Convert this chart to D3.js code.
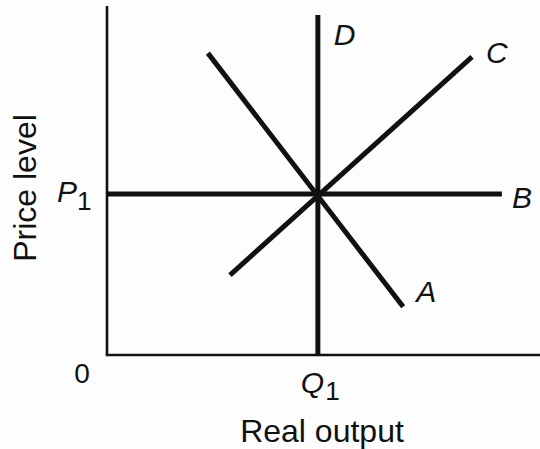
<!DOCTYPE html>
<html>
<head>
<meta charset="utf-8">
<script src="https://cdn.jsdelivr.net/npm/d3@7"></script>
<style>
  html, body { margin: 0; padding: 0; background: #fdfdfd; }
  svg { display: block; }
  text { font-family: "Liberation Sans", Arial, Helvetica, sans-serif; fill: #111; }
</style>
</head>
<body>
<svg id="chart" width="540" height="449"></svg>
<script>
// courbes (unités arbitraires, 0..10 sur chaque axe)
const curveNames = ["A", "B", "C", "D"];
const curveStart = [[2.33, 8.65], [0, 4.61], [2.84, 2.29], [4.87, 0]];
const curveEnd = [[6.84, 1.38], [9.12, 4.61], [8.43, 8.54], [4.87, 9.74]];

// repères sur les axes
const q1Value = 4.87;
const p1Value = 4.61;
const xTitle = "Real output";
const yTitle = "Price level";

const svg = d3.select("#chart");

const x = d3.scaleLinear().domain([0, 10]).range([107, 540]);
const y = d3.scaleLinear().domain([0, 10]).range([355, 6]);

// axes
svg.append("line")
    .attr("x1", x(0)).attr("y1", y(0))
    .attr("x2", x(0)).attr("y2", y(10))
    .attr("stroke", "#111").attr("stroke-width", 2.6);
svg.append("line")
    .attr("x1", x(0) - 1.3).attr("y1", y(0))
    .attr("x2", x(10)).attr("y2", y(0))
    .attr("stroke", "#111").attr("stroke-width", 2.6);

// courbes
const curves = curveNames.map((name, i) => ({ name, p0: curveStart[i], p1: curveEnd[i] }));

svg.selectAll(".curve")
    .data(curves)
    .enter().append("line")
    .attr("class", "curve")
    .attr("x1", d => x(d.p0[0])).attr("y1", d => y(d.p0[1]))
    .attr("x2", d => x(d.p1[0])).attr("y2", d => y(d.p1[1]))
    .attr("stroke", "#111").attr("stroke-width", 5);

// étiquettes des courbes, décalées depuis l'extrémité
const labelOffset = { A: [13, -5], B: [10, 14], C: [14, 6], D: [16, 30] };
svg.selectAll(".curve-label")
    .data(curves)
    .enter().append("text")
    .attr("class", "curve-label")
    .attr("x", d => x(d.p1[0]) + labelOffset[d.name][0])
    .attr("y", d => y(d.p1[1]) + labelOffset[d.name][1])
    .attr("font-size", 30)
    .attr("font-style", "italic")
    .text(d => d.name);

// origine
svg.append("text")
    .attr("x", 82).attr("y", 383)
    .attr("text-anchor", "middle")
    .attr("font-size", 28)
    .text("0");

// Q1
const q1 = svg.append("text")
    .attr("x", x(q1Value) - 17).attr("y", 393)
    .attr("font-size", 30);
q1.append("tspan").attr("font-style", "italic").text("Q");
q1.append("tspan").attr("dy", 7).attr("dx", 1).attr("font-size", 26).text("1");

// P1
const p1 = svg.append("text")
    .attr("x", 57).attr("y", y(p1Value) + 8)
    .attr("font-size", 30);
p1.append("tspan").attr("font-style", "italic").text("P");
p1.append("tspan").attr("dy", 8).attr("dx", 0).attr("font-size", 26).text("1");

// titres des axes
svg.append("text")
    .attr("x", 322).attr("y", 442)
    .attr("text-anchor", "middle")
    .attr("font-size", 32)
    .text(xTitle);

svg.append("text")
    .attr("transform", "translate(36,188) rotate(-90)")
    .attr("text-anchor", "middle")
    .attr("font-size", 32)
    .text(yTitle);
</script>
</body>
</html>
